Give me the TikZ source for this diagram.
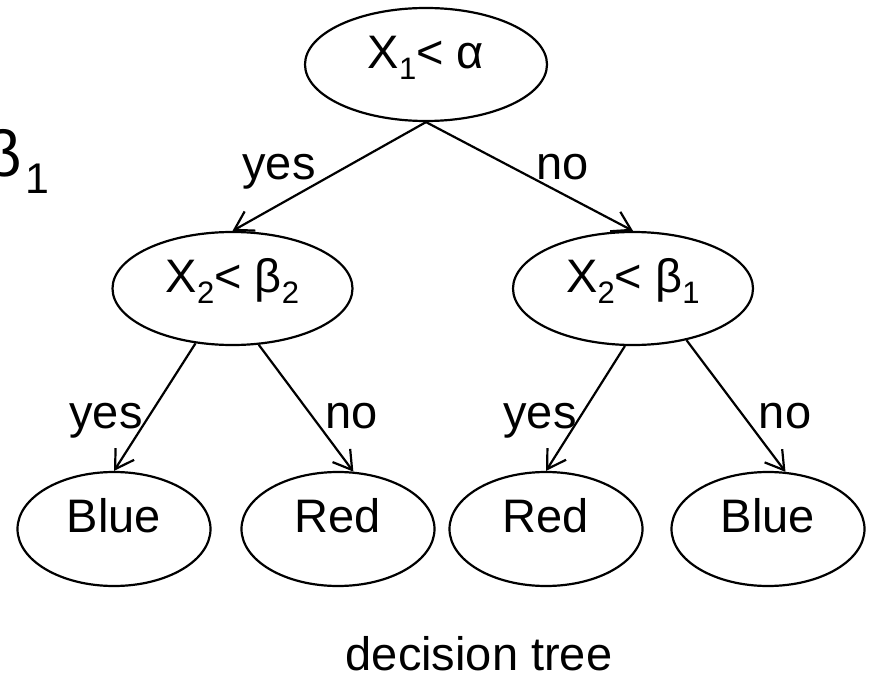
\documentclass[tikz,border=0pt]{standalone}
\usepackage{fontspec}
\setmainfont{Liberation Sans}
\usetikzlibrary{arrows.meta, shapes.geometric}

\newcommand\lowidx[1]{\raisebox{-0.25em}{\scalebox{0.66}{#1}}}

\begin{document}
\begin{tikzpicture}[
    x=1pt, y=-1pt,
    font=\fontsize{47}{56}\selectfont,
    test/.style = {draw=black, ellipse, line width=2.2pt, inner sep=0pt,
        minimum width=240pt, minimum height=113pt, text height=0.72em, text depth=0pt},
    leaf/.style = {test, minimum width=193pt, minimum height=114pt},
    branch/.style = {-{Straight Barb[length=18pt, width=22pt]}, line width=2.2pt},
    answer/.style = {anchor=base}
]
\useasboundingbox (0,0) rectangle (870,679);
\clip (0,0) rectangle (870,679);

\node(Cut)[anchor=base west, inner sep=0pt, font=\fontsize{65}{70}\selectfont] at (-16,177) {β\kern4pt\lowidx{1}};

\node(Root)[test, minimum width=242pt] at (426,64.5) {X\lowidx{1}< α};

\node(TestTwo)[test] at (232.5,288.5) {X\lowidx{2}< β\lowidx{2}};
\node(TestOne)[test] at (633,288.5) {X\lowidx{2}< β\lowidx{1}};
\draw[branch] (Root.south) -- (TestTwo.north);
\draw[branch] (Root.south) -- (TestOne.north);

\node(BlueLeft)[leaf] at (114,529) {Blue};
\node(RedLeft)[leaf] at (338,529) {Red};
\node(RedRight)[leaf] at (546,529) {Red};
\node(BlueRight)[leaf] at (768,529) {Blue};

\draw[branch] (TestTwo.236) -- (BlueLeft.north);
\draw[branch] (TestTwo.295) -- (RedLeft.75);
\draw[branch] (TestOne.262) -- (RedRight.north);
\draw[branch] (TestOne.316) -- (BlueRight.73);

% yes / no on the branches
\node(YesTop)[answer] at (279,180) {yes};
\node(NoTop)[answer] at (563,180) {no};
\node(YesTwo)[answer] at (106,428) {yes};
\node(NoTwo)[answer] at (351.5,428) {no};
\node(YesOne)[answer] at (540,428) {yes};
\node(NoOne)[answer] at (785,428) {no};

\node(Caption)[answer] at (479,670) {decision tree};

\end{tikzpicture}
\end{document}
